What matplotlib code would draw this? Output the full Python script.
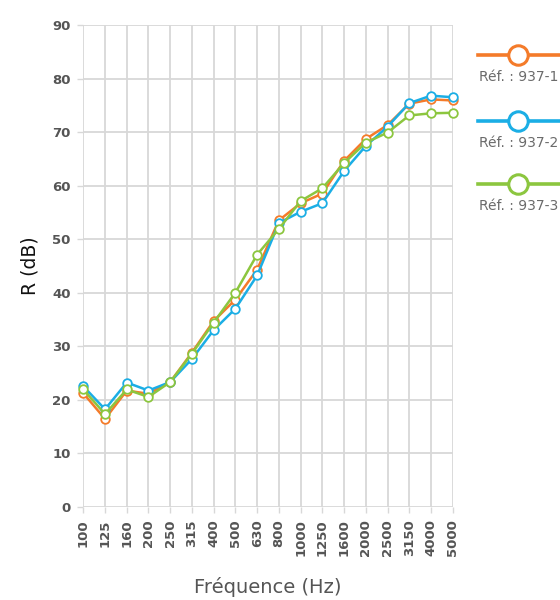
import matplotlib
matplotlib.use("Agg")
import matplotlib.pyplot as plt
from matplotlib.lines import Line2D

# Third-octave band centre frequencies (Hz)
frequencies = ["100", "125", "160", "200", "250", "315", "400", "500", "630",
               "800", "1000", "1250", "1600", "2000", "2500", "3150", "4000", "5000"]

# Sound reduction index R (dB) per sample
ref_937_1 = [21.2, 16.4, 21.7, 21.1, 23.3, 28.8, 34.7, 38.7, 44.3,
             53.5, 56.7, 58.5, 64.6, 68.7, 71.3, 75.3, 76.1, 75.9]
ref_937_2 = [22.5, 18.2, 23.2, 21.7, 23.3, 27.6, 33.0, 37.0, 43.2,
             53.0, 55.1, 56.7, 62.7, 67.4, 71.0, 75.4, 76.8, 76.5]
ref_937_3 = [21.9, 17.3, 21.9, 20.5, 23.3, 28.6, 34.4, 40.0, 47.1,
             51.9, 57.1, 59.5, 64.2, 68.0, 69.9, 73.1, 73.5, 73.6]

series_labels = ["Réf. : 937-1", "Réf. : 937-2", "Réf. : 937-3"]
series_colors = ["#F47B2A", "#1BAEE5", "#8CC63F"]
y_ticks = [0, 10, 20, 30, 40, 50, 60, 70, 80, 90]

W, H = 560, 600
fig = plt.figure(figsize=(W / 100, H / 100), dpi=100)
ax = fig.add_axes([83.3 / W, 1 - 506.7 / H, 369.4 / W, 481.7 / H])

x = list(range(len(frequencies)))
for vals, col in zip([ref_937_1, ref_937_2, ref_937_3], series_colors):
    ax.plot(x, vals, color=col, lw=1.8, marker="o", ms=6.2,
            mfc="white", mec=col, mew=1.3, zorder=3, clip_on=False)

ax.set_xlim(0, len(frequencies) - 1)
ax.set_ylim(0, 90)
ax.set_xticks(x)
ax.set_xticklabels(frequencies, rotation=90, fontsize=9.5,
                   color="#555555", fontweight="bold", family="DejaVu Sans")
ax.set_yticks(y_ticks)
ax.set_yticklabels([str(v) for v in y_ticks], fontsize=9.5,
                   color="#555555", fontweight="bold", family="DejaVu Sans")

grid_col = "#d8d8d8"
ax.grid(True, color=grid_col, lw=1.3)
ax.set_axisbelow(True)
for s in ax.spines.values():
    s.set_visible(False)
ax.tick_params(axis="both", length=4, width=1.0, color=grid_col, pad=5)

ax.set_ylabel("R (dB)", fontsize=13.5, color="#111111", family="DejaVu Sans")
ax.yaxis.set_label_coords(-44 / 369.4, 0.5)
ax.set_xlabel("Fréquence (Hz)", fontsize=14, color="#555555",
              family="DejaVu Sans", va="center")
ax.xaxis.set_label_coords(0.5, -(587 - 506.7) / 481.7)

# Legend drawn beside the plot: line with marker, caption underneath
leg_line_y = [55, 121, 184]
for ly, col, lab in zip(leg_line_y, series_colors, series_labels):
    fy = 1 - ly / H
    fig.add_artist(Line2D([478 / W, 1.02], [fy, fy], color=col, lw=2.6,
                          transform=fig.transFigure))
    fig.add_artist(Line2D([518 / W], [fy], color=col, marker="o", ms=14,
                          mfc="white", mec=col, mew=2.2,
                          transform=fig.transFigure))
    fig.text(479 / W, 1 - (ly + 22) / H, lab, fontsize=10, color="#6b6b6b",
             ha="left", va="center", family="DejaVu Sans")

fig.savefig("out.png", dpi=100, facecolor="white")
